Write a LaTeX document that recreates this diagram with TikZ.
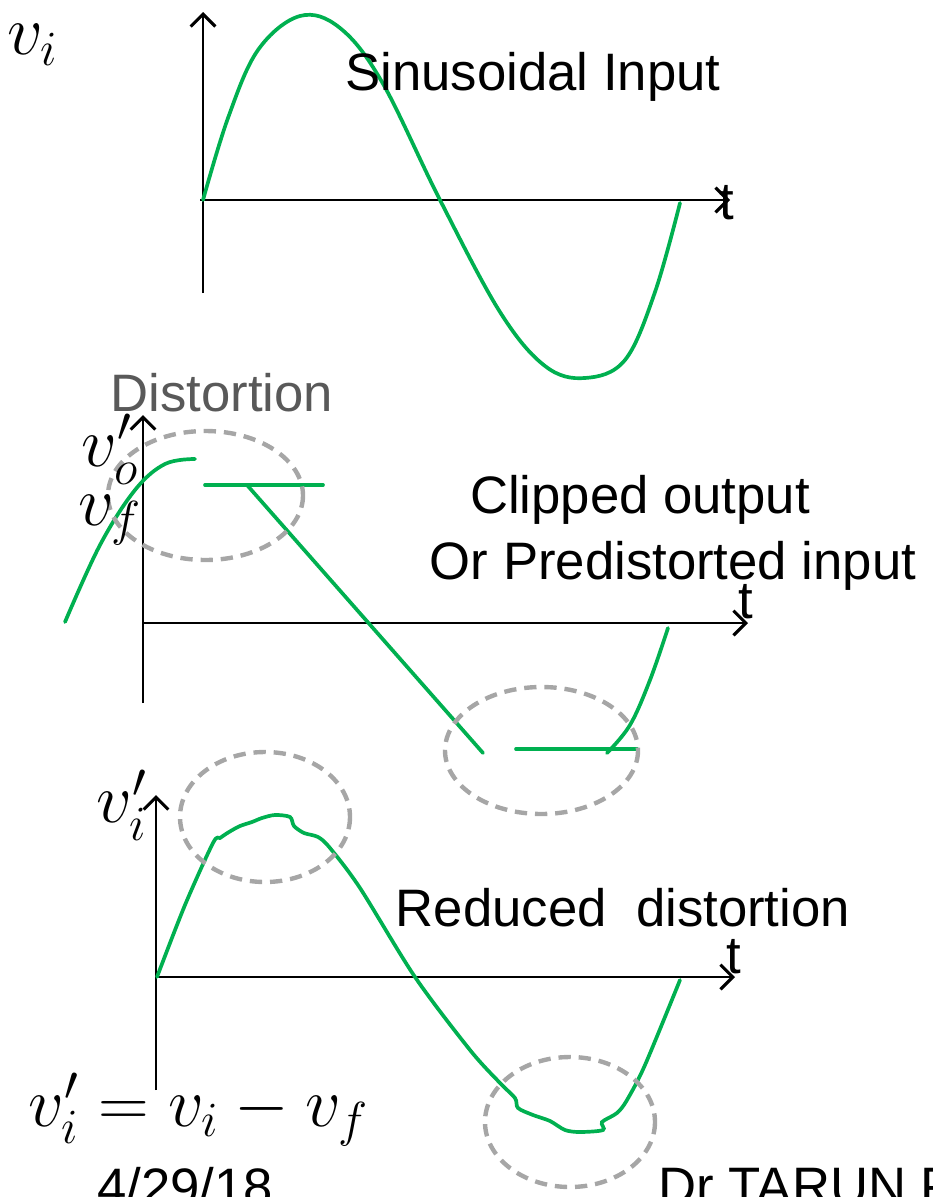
\RequirePackage{fix-cm}
\documentclass[tikz,border=0pt]{standalone}
\usepackage{fontspec}
\setmainfont{Liberation Sans}
\usetikzlibrary{arrows.meta}
\definecolor{wavegreen}{HTML}{00B050}
\definecolor{ringgray}{HTML}{A6A6A6}
\definecolor{notegray}{HTML}{595959}

\begin{document}
\begin{tikzpicture}[x=0.02cm, y=-0.02cm,
    axis/.style={line width=1.1pt, -{Straight Barb[length=7pt, width=14pt, line width=1.8pt]}},
    wave/.style={draw=wavegreen, line width=2.1pt, line cap=round},
    ring/.style={draw=ringgray, line width=2.5pt, dash pattern=on 7pt off 4.5pt},
    lbl/.style={inner sep=0pt, font=\fontsize{30}{34}\selectfont},
    sym/.style={inner sep=0pt, font=\fontsize{40}{44}\selectfont},
]
    \useasboundingbox (0,0) rectangle (933,1197);

    % Sinusoidal input
    \coordinate (o1) at (203,200);
    \draw[axis] (203,293) -- (203,12);
    \draw[axis] (200,200) -- (730,200);
    \draw[wave] plot[smooth, tension=0.6] coordinates {(203,200) (228,118) (258,50) (300,16) (340,28) (382,82) (440,200) (500,312) (545,366) (585,378) (625,360) (655,292) (680,203)};
    \node[sym, anchor=west] (vi) at (7,45) {$v_i$};
    \node[lbl] (sinlbl) at (533,77) {Sinusoidal Input};
    \node[lbl] (t1) at (727,203) {t};

    % Clipped output
    \coordinate (o2) at (143,623);
    \draw[axis] (143,703) -- (143,415);
    \draw[axis] (142,623) -- (748,623);
    \draw[wave] plot[smooth, tension=0.6] coordinates {(65,622) (100,545) (135,490) (165,464) (195,459)};
    \draw[wave] (205,485) -- (323,485);
    \draw[wave] (247,485) -- (483,753);
    \draw[wave] (516,749) -- (637,749);
    \draw[wave] plot[smooth, tension=0.6] coordinates {(607,753) (630,725) (650,680) (668,628)};
    \draw[ring] (205.5,495.5) ellipse [x radius=97.5, y radius=64.5];
    \draw[ring] (541.5,750.5) ellipse [x radius=96.5, y radius=63.5];
    \node[lbl, text=notegray] (distlbl) at (222,393) {Distortion};
    \node[sym] (vo) at (110,449) {$v'_o$};
    \node[sym] (vf) at (110,520) {$v_f$};
    \node[lbl] (cliplbl) at (640,500) {Clipped output};
    \node[lbl] (predlbl) at (673,566) {Or Predistorted input};
    \node[lbl] (t2) at (746,602) {t};

    % Reduced distortion
    \coordinate (o3) at (156,977);
    \draw[axis] (156,1090) -- (156,795);
    \draw[axis] (155,977) -- (735,977);
    \draw[wave] plot[smooth, tension=0.5] coordinates {(157,977) (185,905) (213,843) (220,838) (229,832) (240,826) (252,822) (262,818) (275,815) (290,817) (294,826) (304,833) (318,837) (330,848) (360,888)
        (415,977) (470,1050) (500,1083) (515,1098) (518,1108) (533,1115) (550,1121) (565,1130) (580,1132) (603,1130) (602,1122) (617,1113) (627,1100) (645,1065) (680,980)};
    \draw[ring] (265,817) ellipse [x radius=85, y radius=65];
    \draw[ring] (570,1122) ellipse [x radius=85, y radius=65];
    \node[sym] (vip) at (122,805) {$v'_i$};
    \node[lbl] (redlbl) at (623,908) {Reduced\ \ distortion};
    \node[lbl] (t3) at (734,957) {t};
    \node[sym, anchor=west] (eqn) at (28,1110) {$v'_i = v_i - v_f$};

    % footer
    \node[lbl, anchor=west] (date) at (97,1187) {4/29/18};
    \node[lbl, anchor=west] (author) at (658,1187) {Dr TARUN PA};
\end{tikzpicture}
\end{document}
